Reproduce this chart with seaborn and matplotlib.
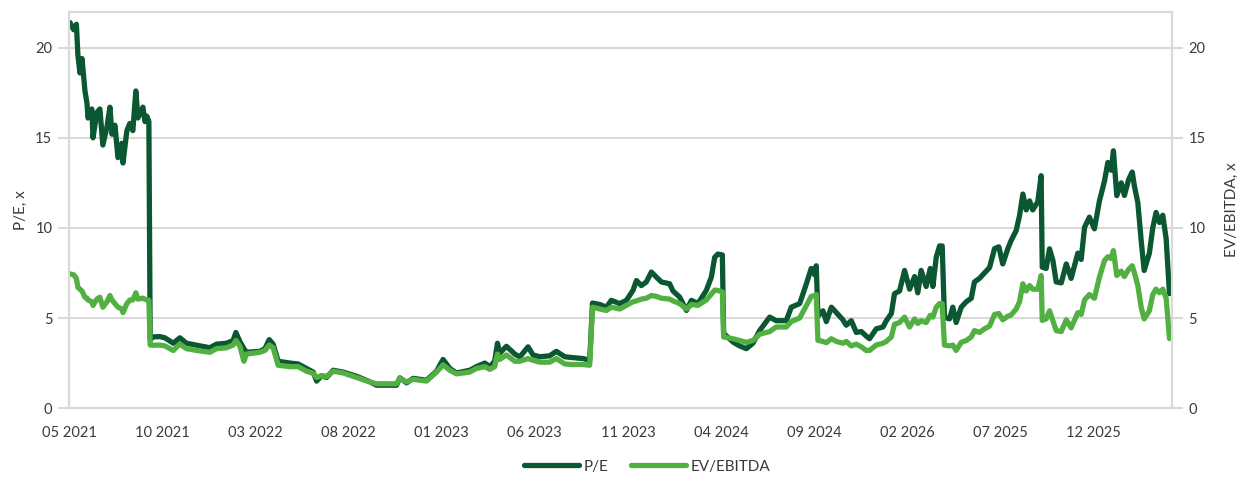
import matplotlib
matplotlib.use("Agg")
import matplotlib.pyplot as plt
import seaborn as sns
import pandas as pd

# months since May 2021
months = [0.05, 0.25, 0.40, 0.48, 0.59, 0.70, 0.86, 0.97, 1.02, 1.23, 1.29, 1.50, 1.66, 1.82, 2.04,
          2.20, 2.31, 2.47, 2.63, 2.84, 2.90, 3.11, 3.27, 3.43, 3.59, 3.70, 3.97, 4.08, 4.18, 4.29, 4.36,
          4.52, 4.88, 5.15, 5.60, 5.95, 6.31, 6.85, 7.56, 7.92, 8.46, 8.81, 8.96, 9.17, 9.39, 9.53,
          10.25, 10.52, 10.75, 10.96, 11.23, 11.86, 12.30, 12.75, 13.11, 13.29, 13.56, 13.83, 14.18,
          14.72, 15.43, 16.15, 16.51, 17.58, 17.76, 18.12, 18.47, 19.19, 19.73, 20.08, 20.44, 20.80,
          21.51, 21.87, 22.32, 22.59, 22.85, 23.00, 23.12, 23.48, 23.93, 24.20, 24.64, 24.91, 25.27,
          25.80, 26.16, 26.61, 27.05, 27.59, 27.95, 28.10, 28.49, 28.85, 29.11, 29.56, 29.92, 30.27,
          30.46, 30.72, 30.99, 31.26, 31.53, 31.80, 32.24, 32.42, 32.78, 33.14, 33.41, 33.76, 34.21,
          34.48, 34.66, 34.83, 35.07, 35.14, 35.64, 36.00, 36.36, 36.71, 37.07, 37.61, 37.96, 38.50,
          38.77, 39.22, 39.58, 39.84, 40.02, 40.11, 40.20, 40.47, 40.65, 40.92, 41.19, 41.54, 41.72,
          41.99, 42.26, 42.53, 42.79, 42.97, 43.33, 43.69, 43.87, 44.14, 44.31, 44.58, 44.85, 45.12,
          45.39, 45.56, 45.74, 46.01, 46.23, 46.37, 46.55, 46.73, 46.87, 46.99, 47.26, 47.44, 47.62,
          47.89, 48.16, 48.43, 48.60, 48.87, 49.14, 49.41, 49.68, 49.91, 50.12, 50.39, 50.57, 50.84,
          51.02, 51.20, 51.38, 51.56, 51.73, 52.00, 52.18, 52.24, 52.45, 52.63, 52.81, 52.99, 53.26,
          53.53, 53.79, 54.15, 54.33, 54.51, 54.77, 55.04, 55.31, 55.58, 55.76, 55.94, 56.06, 56.24,
          56.48, 56.65, 56.88, 57.07, 57.19, 57.37, 57.55, 57.71, 57.99, 58.17, 58.35, 58.53, 58.71,
          58.89, 59.07]

pe = [21.4, 21.0, 21.3, 19.6, 18.6, 19.4, 17.6, 16.9, 16.1, 16.6, 15.0, 16.4, 16.6, 14.6, 15.6,
      16.7, 15.2, 15.7, 13.9, 14.7, 13.6, 15.4, 15.8, 15.4, 17.6, 16.1, 16.7, 15.9, 16.2, 15.9, 3.8,
      3.95, 3.97, 3.9, 3.6, 3.9, 3.6, 3.49, 3.35, 3.55, 3.6, 3.75, 4.2, 3.7, 3.3, 3.1,
      3.15, 3.3, 3.8, 3.55, 2.6, 2.5, 2.45, 2.2, 2.0, 1.5, 1.8, 1.7, 2.1,
      2.0, 1.77, 1.46, 1.27, 1.27, 1.68, 1.4, 1.65, 1.55, 2.05, 2.7, 2.2, 1.95,
      2.1, 2.3, 2.5, 2.3, 2.6, 3.6, 3.05, 3.43, 3.0, 2.84, 3.4, 2.95, 2.85,
      2.9, 3.15, 2.85, 2.8, 2.75, 2.66, 5.83, 5.75, 5.6, 5.98, 5.8, 5.98, 6.53,
      7.08, 6.8, 7.0, 7.55, 7.27, 7.0, 6.9, 6.5, 6.16, 5.42, 5.98, 5.8, 6.53,
      7.27, 8.37, 8.55, 8.5, 4.15, 3.67, 3.45, 3.3, 3.6, 4.3, 5.05, 4.85, 4.85,
      5.6, 5.8, 6.9, 7.75, 7.4, 7.9, 5.1, 5.4, 4.8, 5.6, 5.3, 4.9, 4.6,
      4.85, 4.2, 4.25, 4.0, 3.85, 4.4, 4.5, 4.85, 5.25, 6.35, 6.5, 7.64, 6.6,
      7.3, 6.4, 7.64, 6.75, 7.75, 6.75, 8.37, 9.0, 9.0, 5.05, 4.95, 5.6, 4.75,
      5.6, 5.9, 6.1, 7.0, 7.2, 7.5, 7.8, 8.85, 8.95, 8.0, 8.84, 9.3, 9.85,
      10.68, 11.88, 11.0, 11.5, 11.0, 11.45, 12.9, 7.82, 7.75, 8.84, 8.2, 7.0, 6.95,
      8.0, 7.2, 8.6, 8.25, 10.03, 10.6, 9.95, 11.5, 12.6, 13.63, 13.2, 14.28, 11.79,
      12.5, 11.8, 12.7, 13.1, 12.3, 11.4, 9.3, 7.64, 8.6, 10.0, 10.86, 10.3, 10.7,
      9.4, 6.35]

ev_ebitda = [7.45, 7.4, 7.2, 6.7, 6.6, 6.5, 6.15, 6.1, 6.0, 5.9, 5.7, 6.05, 6.15, 5.6, 5.9,
             6.25, 6.0, 5.8, 5.6, 5.5, 5.3, 5.8, 6.0, 6.0, 6.4, 6.05, 6.1, 6.05, 6.0, 6.0, 3.5,
             3.49, 3.5, 3.45, 3.2, 3.55, 3.3, 3.2, 3.1, 3.3, 3.35, 3.5, 3.75, 3.45, 2.6, 3.0,
             3.1, 3.2, 3.5, 3.35, 2.38, 2.3, 2.3, 2.05, 1.93, 1.7, 1.8, 1.75, 2.05,
             1.95, 1.7, 1.45, 1.35, 1.35, 1.65, 1.45, 1.6, 1.5, 2.0, 2.4, 2.1, 1.9,
             2.0, 2.2, 2.3, 2.15, 2.3, 3.0, 2.7, 2.95, 2.6, 2.6, 2.75, 2.65, 2.55,
             2.55, 2.75, 2.45, 2.42, 2.42, 2.38, 5.6, 5.5, 5.42, 5.6, 5.5, 5.7, 5.9,
             5.95, 6.05, 6.1, 6.25, 6.2, 6.1, 6.05, 5.95, 5.8, 5.5, 5.75, 5.7, 6.0,
             6.33, 6.55, 6.53, 6.45, 3.95, 3.85, 3.75, 3.65, 3.75, 4.1, 4.25, 4.5, 4.5,
             4.8, 5.0, 5.7, 6.2, 6.25, 6.3, 3.76, 3.7, 3.63, 3.85, 3.7, 3.6, 3.7,
             3.45, 3.55, 3.4, 3.2, 3.2, 3.5, 3.6, 3.7, 3.95, 4.65, 4.75, 5.05, 4.5,
             4.95, 4.7, 4.85, 4.75, 5.15, 5.05, 5.6, 5.8, 5.8, 3.5, 3.45, 3.5, 3.2,
             3.65, 3.75, 3.95, 4.3, 4.2, 4.4, 4.55, 5.2, 5.25, 4.9, 5.1, 5.17, 5.5,
             5.9, 6.9, 6.5, 6.8, 6.6, 6.6, 7.36, 4.87, 4.95, 5.4, 4.85, 4.3, 4.25,
             4.9, 4.45, 5.3, 5.2, 6.0, 6.3, 6.1, 7.27, 8.19, 8.4, 8.3, 8.74, 7.36,
             7.6, 7.3, 7.7, 7.9, 7.5, 6.8, 5.6, 4.95, 5.4, 6.3, 6.6, 6.4, 6.6,
             6.1, 3.86]

tick_pos = [0, 5, 10, 15, 20, 25, 30, 35, 40, 45, 50, 55]
tick_labels = ["05 2021", "10 2021", "03 2022", "08 2022", "01 2023", "06 2023",
               "11 2023", "04 2024", "09 2024", "02 2026", "07 2025", "12 2025"]
y_ticks = [0, 5, 10, 15, 20]

df = pd.DataFrame({"month": months, "P/E": pe, "EV/EBITDA": ev_ebitda})

sns.set_style("white")
plt.rcParams["font.family"] = ["Lato", "DejaVu Sans"]

DARK = "#0b5731"
LIGHT = "#52b043"
GRID = "#d9d9d9"
TXT = "#3a3a3a"

fig = plt.figure(figsize=(12.4, 4.79), dpi=100)
ax = fig.add_axes([0.0556, 0.148, 0.8895, 0.8276])
ax2 = ax.twinx()

sns.lineplot(data=df, x="month", y="P/E", ax=ax, color=DARK, linewidth=3.8, legend=False)
sns.lineplot(data=df, x="month", y="EV/EBITDA", ax=ax2, color=LIGHT, linewidth=3.8, legend=False)

for a in (ax, ax2):
    a.set_ylim(0, 22)
    a.set_yticks(y_ticks)
    a.set_xlim(0, 59.2)
    for s in a.spines.values():
        s.set_color(GRID)
        s.set_linewidth(1.5)
    a.tick_params(axis="y", length=8, width=1.5, color=GRID, labelsize=10.5,
                  labelcolor=TXT, pad=4)

ax.yaxis.grid(True, color=GRID, linewidth=1.5)
ax.set_axisbelow(True)
ax.set_xticks(tick_pos)
ax.set_xticklabels(tick_labels)
ax.tick_params(axis="x", length=7, width=1.5, color=GRID, labelsize=10.5,
               labelcolor=TXT, pad=6)
ax.set_xlabel("")
ax.set_ylabel("P/E, x", fontsize=11, color=TXT, labelpad=5)
ax2.set_ylabel("EV/EBITDA, x", fontsize=11, color=TXT, labelpad=14)

handles = [ax.get_lines()[0], ax2.get_lines()[0]]
fig.legend(handles, ["P/E", "EV/EBITDA"], loc="center", bbox_to_anchor=(0.522, 0.026),
           ncol=2, frameon=False, fontsize=11, handlelength=3.6, handletextpad=0.3,
           columnspacing=1.5, labelcolor=TXT)

fig.savefig("out.png", dpi=100)
